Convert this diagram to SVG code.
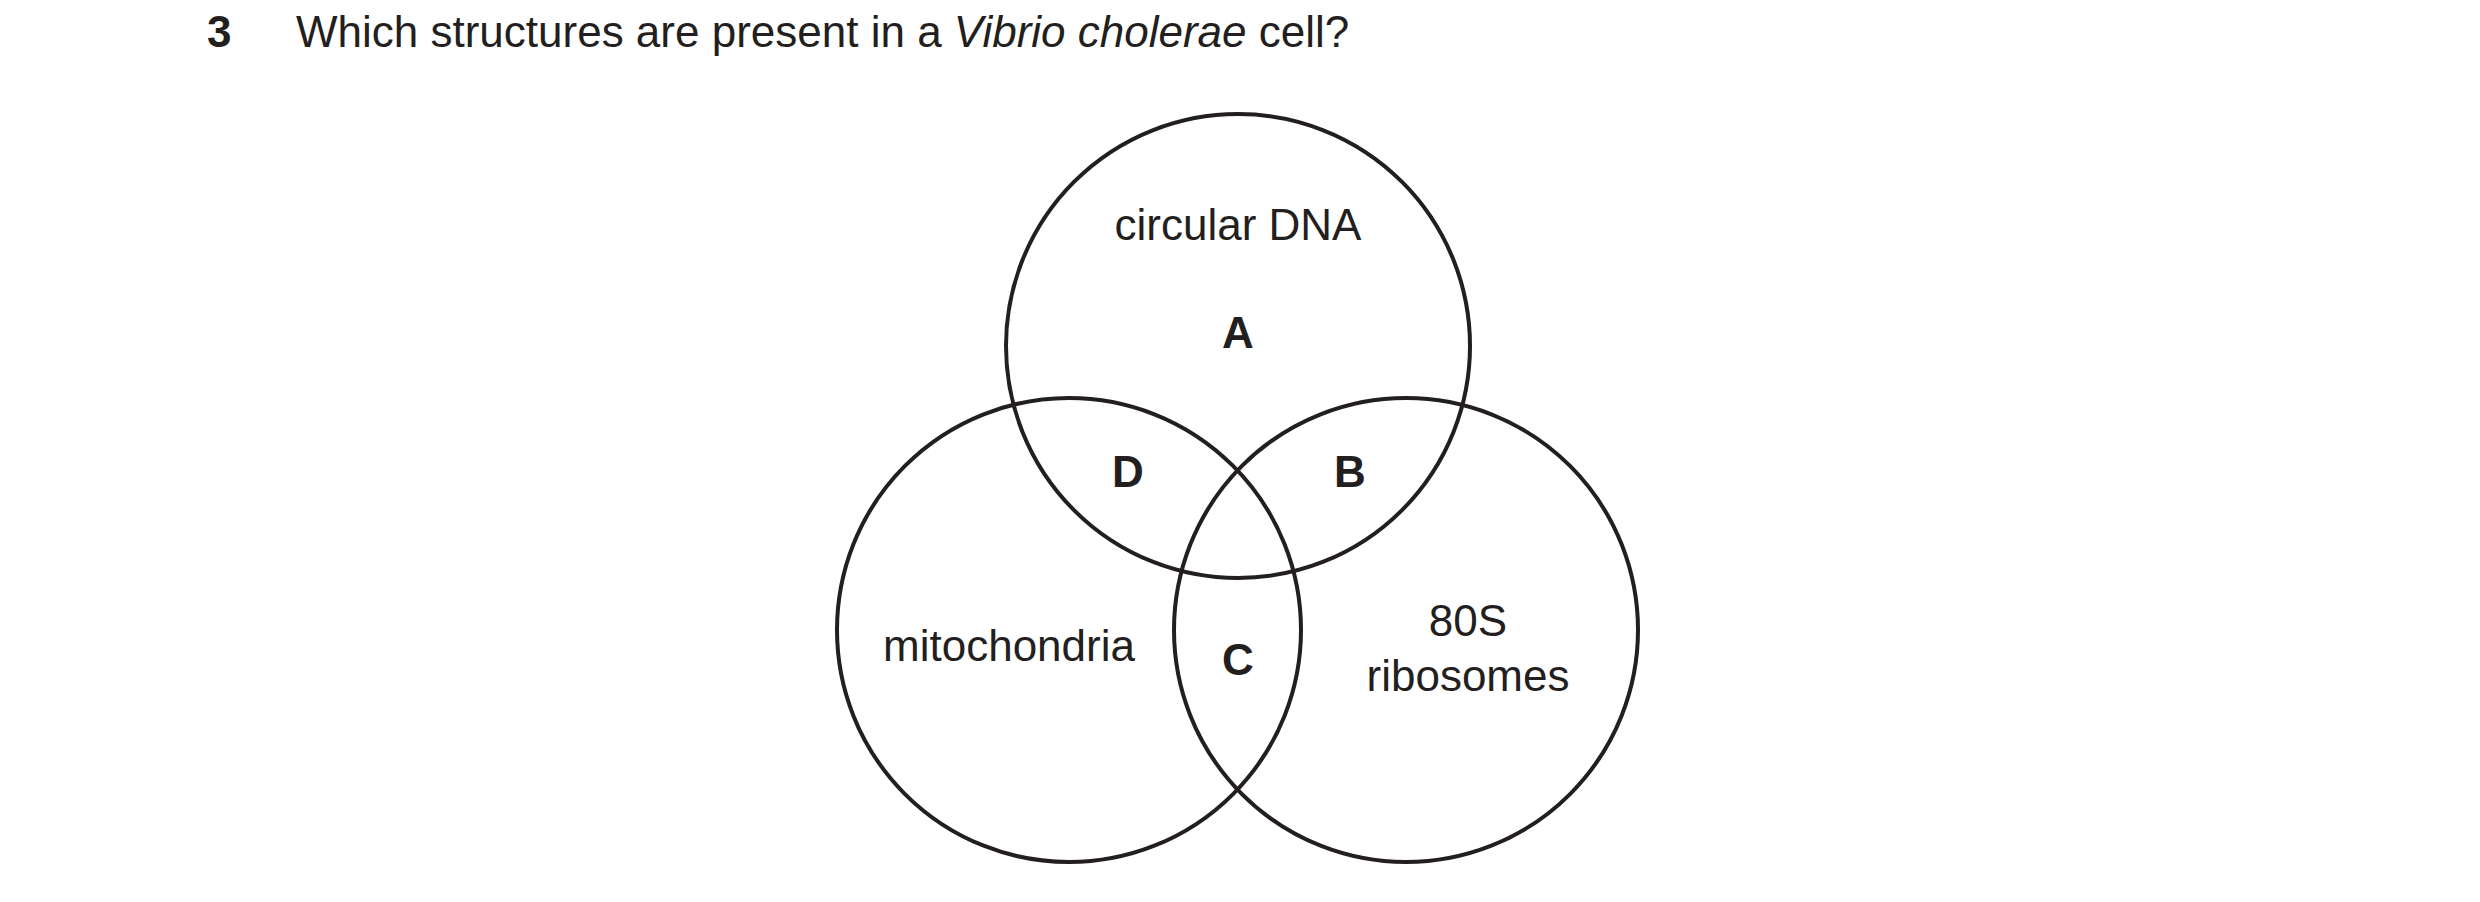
<svg xmlns="http://www.w3.org/2000/svg" width="2480" height="902" viewBox="0 0 2480 902">
<style>
text{font-family:"Liberation Sans",Arial,sans-serif;font-size:44px;fill:#231f20}
.b{font-weight:bold}
.m{text-anchor:middle}
circle{fill:none;stroke:#231f20;stroke-width:4}
</style>
<rect width="2480" height="902" fill="#fff"/>
<text x="207" y="47" class="b">3</text>
<text x="296" y="47">Which structures are present in a <tspan font-style="italic">Vibrio cholerae</tspan> cell?</text>
<g id="top"><circle cx="1238" cy="346" r="232"/></g>
<g id="left"><circle cx="1069" cy="630" r="232"/></g>
<g id="right"><circle cx="1406" cy="630" r="232"/></g>
<g id="connectors"></g>
<text x="1238" y="240" class="m">circular DNA</text>
<text x="1238" y="348" class="m b">A</text>
<text x="1128" y="487" class="m b">D</text>
<text x="1350" y="487" class="m b">B</text>
<text x="1238" y="675" class="m b">C</text>
<text x="1009" y="661" class="m">mitochondria</text>
<text x="1468" y="636" class="m">80S</text>
<text x="1468" y="691" class="m">ribosomes</text>
</svg>
